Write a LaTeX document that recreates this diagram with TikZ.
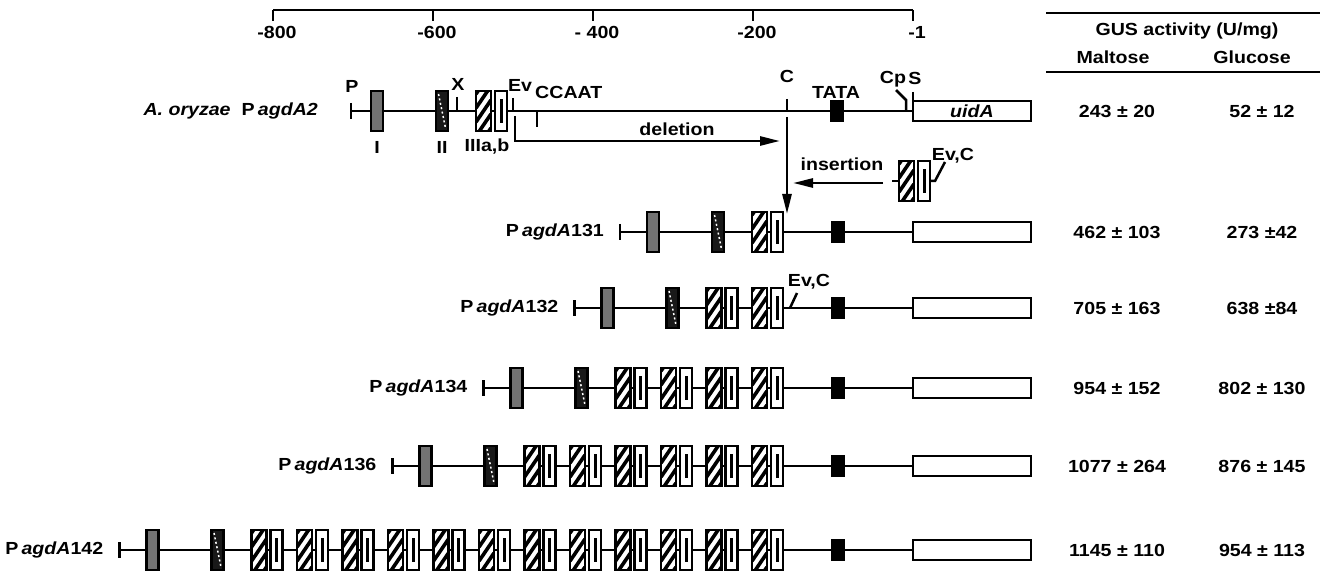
\documentclass[tikz,border=0pt]{standalone}
\usepackage{fontspec}
\setmainfont{Liberation Sans}
\usepackage{graphicx}
\usetikzlibrary{arrows.meta}
\newcommand{\stx}[1]{\scalebox{1.12}[1]{#1}}
\newcommand{\startbar}[2]{\draw[dna] ({#1},{#2-8}) -- ({#1},{#2+8});}
\newcommand{\stipbx}[2]{\draw[bx,fill=black!55] ({#1},{#2-20}) rectangle ++(12,40);}
\newcommand{\twobx}[2]{\draw[bx,fill=black!90] ({#1},{#2-20}) rectangle ++(12,40);
  \draw[white,line width=1.5pt,dash pattern=on 2pt off 2.5pt] ({#1+2.5},{#2-17}) -- ({#1+9.5},{#2+17});}
\newcommand{\hatchbx}[2]{%
  \begin{scope}
    \clip ({#1},{#2-20}) rectangle ++(15,40);
    \fill[white] ({#1},{#2-20}) rectangle ++(15,40);
    \foreach \o in {-42,-28,-14,0,14,28,42}{
      \draw[line width=3.6pt] ({#1},{#2+(\o)+11}) -- ({#1+15},{#2+(\o)-11});
    }
  \end{scope}
  \draw[bx] ({#1},{#2-20}) rectangle ++(15,40);}
\newcommand{\openbx}[2]{\draw[bx,fill=white] ({#1},{#2-20}) rectangle ++(12,40);
  \fill ({#1+4.5},{#2-12}) rectangle ++(3,24);}
\newcommand{\pairbx}[2]{\hatchbx{#1}{#2}\openbx{#1+19}{#2}}
\newcommand{\construct}[6]{%
  \pgfmathsetmacro{\hzero}{752-45.5*(#3-1)}
  \pgfmathsetmacro{\cstart}{\hzero-132}
  \draw[dna] ({\cstart},{#2}) -- (913,{#2});
  \startbar{\cstart}{#2}
  \stipbx{\hzero-105}{#2}
  \twobx{\hzero-40}{#2}
  \foreach \kk in {1,...,#3}{\pgfmathsetmacro{\hx}{\hzero+45.5*(\kk-1)}\pairbx{\hx}{#2}}
  \draw[bx,fill=black] (832,{#2-10}) rectangle (844,{#2+10});
  \draw[bx,fill=white] (913,{#2-10}) rectangle (1031,{#2+10});
  \node[anchor=east] (#1-lab) at ({\cstart-16},{#2}) {\stx{P\,\textit{agdA}#1}};
  \node (#1-m) at (1117,{#2}) {\stx{#5}};
  \node (#1-g) at (1262,{#2}) {\stx{#6}};
}
\begin{document}
\begin{tikzpicture}[x=1pt,y=-1pt,
  every node/.style={inner sep=0pt, font=\fontsize{17.5}{19}\selectfont\bfseries},
  dna/.style={line width=2.8pt},
  bx/.style={line width=2.3pt},
  arr/.style={line width=2.6pt, -{Triangle[length=20pt,width=9pt]}},
  tk/.style={line width=2.5pt}]
\useasboundingbox (0,0) rectangle (1322,585);
% scale bar
\draw[dna] (273,10) -- (913,10);
\foreach \xx/\lab [count=\i] in {273/-800,433/-600,593/- 400,753/-200,913/-1}{
  \draw[tk] (\xx,10) -- (\xx,21);
  \node (sc\i) at (\xx+4,32) {\stx{\lab}};
}
% table header
\draw[dna] (1046,13) -- (1320,13);
\draw[dna] (1046,72) -- (1320,72);
\node (gus) at (1187,31) {\stx{GUS activity (U/mg)}};
\node (malt) at (1113,57) {\stx{Maltose}};
\node (gluc) at (1252,57) {\stx{Glucose}};
% row A2
\draw[dna] (351,111) -- (913,111);
\startbar{351}{111}
\stipbx{371}{111}
\twobx{436}{111}
\draw[tk] (457,97) -- (457,111);
\pairbx{476}{111}
\draw[tk] (513,98) -- (513,111);
\draw[tk] (537,111) -- (537,127);
\draw[tk] (787,99) -- (787,111);
\draw[bx,fill=black] (831,101) rectangle (843,121);
\draw[tk] (896,90) -- (906,100) -- (906,111);
\draw[tk] (913,92) -- (913,102);
\draw[bx,fill=white] (913,101) rectangle (1031,121);
\node (uida) at (972,111) {\stx{\textit{uidA}}};
\node[anchor=east] (a2-lab) at (318,111) {\stx{\textit{A. oryzae}\ \ P\,\textit{agdA2}}};
\node (lP) at (352,86) {\stx{P}};
\node (lX) at (458,84) {\stx{X}};
\node (lEv) at (520,85) {\stx{Ev}};
\node[anchor=west] (lCCAAT) at (535,92) {\stx{CCAAT}};
\node (lC) at (787,76) {\stx{C}};
\node (lTATA) at (836,92) {\stx{TATA}};
\node (lCp) at (893,79) {\stx{Cp}};
\node (lS) at (915,78) {\stx{S}};
\node (lI) at (377,147) {\stx{I}};
\node (lII) at (442,147) {\stx{II}};
\node (lIII) at (487,147) {\stx{IIIa,b}};
\node (a2-m) at (1117,111) {\stx{243 ± 20}};
\node (a2-g) at (1262,111) {\stx{52 ± 12}};
% deletion / insertion
\coordinate (dst) at (515,116);
\coordinate (dend) at (780,141);
\draw[line width=2.5pt, -{Triangle[length=20pt,width=9pt]}] (dst) |- (dend);
\node (ldel) at (677,129) {\stx{deletion}};
\coordinate (ist) at (883,183);
\coordinate (iend) at (793,183);
\draw[arr] (ist) -- (iend);
\node (lins) at (842,164) {\stx{insertion}};
\draw[tk] (892,181) -- (899,181);
\pairbx{899}{181}
\draw[tk] (930,181) -- (935,181) -- (945,162);
\node (lEvC1) at (953,156) {\stx{Ev,C}};
\coordinate (cst) at (787,117);
\coordinate (cend) at (787,214);
\draw[arr] (cst) -- (cend);
% constructs
\construct{131}{232}{1}{}{462 ± 103}{273 ±42}
\construct{132}{308}{2}{}{705 ± 163}{638 ±84}
\draw[tk] (790,308) -- (797,293);
\node (lEvC2) at (809,282) {\stx{Ev,C}};
\construct{134}{388}{4}{}{954 ± 152}{802 ± 130}
\construct{136}{466}{6}{}{1077 ± 264}{876 ± 145}
\construct{142}{550}{12}{}{1145 ± 110}{954 ± 113}
\end{tikzpicture}
\end{document}
